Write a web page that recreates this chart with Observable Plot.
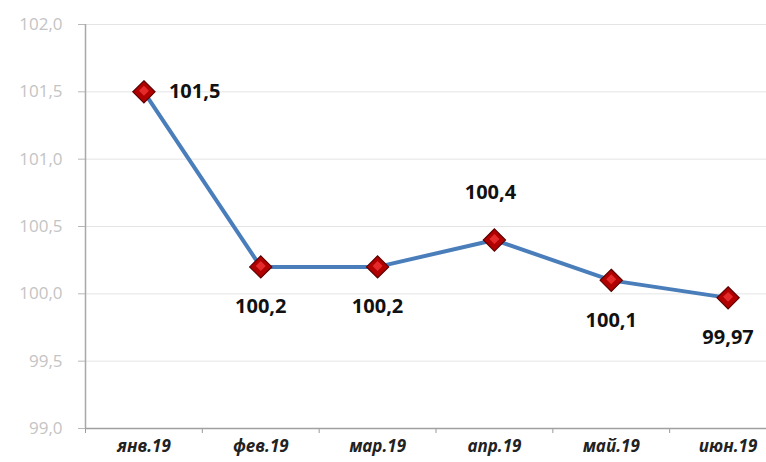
<!DOCTYPE html>
<html>
<head>
<meta charset="utf-8">
<script src="https://cdn.jsdelivr.net/npm/d3@7"></script>
<script src="https://cdn.jsdelivr.net/npm/@observablehq/plot@0.6"></script>
<style>
  html, body { margin: 0; padding: 0; background: #fff; }
</style>
</head>
<body>
<div id="chart"></div>
<script>
const months = ["янв.19", "фев.19", "мар.19", "апр.19", "май.19", "июн.19"];
const values = [101.5, 100.2, 100.2, 100.4, 100.1, 99.97];
const labels = ["101,5", "100,2", "100,2", "100,4", "100,1", "99,97"];
const yTicks = [99.0, 99.5, 100.0, 100.5, 101.0, 101.5, 102.0];

const data = months.map((m, i) => ({i: i + 0.5, month: m, value: values[i], label: labels[i]}));
const right = data.filter((d, i) => i === 0);
const above = data.filter((d, i) => i === 3);
const below = data.filter((d, i) => i !== 0 && i !== 3);

const fmt = d => d.toFixed(1).replace(".", ",");

const chart = Plot.plot({
  width: 766,
  height: 462,
  marginTop: 24,
  marginBottom: 34,
  marginLeft: 85,
  marginRight: 0,
  style: {fontFamily: "'Open Sans', sans-serif", background: "#fff"},
  x: {domain: [0, 6], range: [85, 786], axis: null, label: null},
  y: {domain: [99, 102], axis: null, label: null},
  marks: [
    Plot.gridY(yTicks, {stroke: "#e4e4e4", strokeOpacity: 1, strokeWidth: 1}),
    Plot.axisY(yTicks, {label: null, tickFormat: fmt, tickSize: 7, stroke: "#b8b8b8", fill: "#c4c4c4", fontSize: 17, tickPadding: 16}),
    Plot.axisX(d3.range(0, 7), {label: null, tickFormat: () => "", tickSize: 5, stroke: "#9a9a9a"}),
    Plot.axisX(data.map(d => d.i), {label: null, tickFormat: (d) => months[Math.round(d - 0.5)], tickSize: 0, tickPadding: 11,
      fill: "#222", fontSize: 17, fontWeight: "bold", fontStyle: "italic"}),
    Plot.ruleX([0], {stroke: "#a8a8a8", strokeWidth: 1.5}),
    Plot.ruleY([99], {stroke: "#a0a0a0", strokeWidth: 1.5}),
    Plot.line(data, {x: "i", y: "value", stroke: "#4a7ebb", strokeWidth: 4}),
    Plot.dot(data, {x: "i", y: "value", symbol: "diamond2", r: 10, fill: "#b00000", stroke: "#5e0000", strokeWidth: 1.2}),
    Plot.dot(data, {x: "i", y: "value", symbol: "diamond2", r: 4.5, fill: "#e52a2a", stroke: "none", dy: -1}),
    Plot.text(right, {x: "i", y: "value", text: "label", textAnchor: "start", dx: 25, fontSize: 20, fontWeight: "bold", fill: "#111"}),
    Plot.text(above, {x: "i", y: "value", text: "label", dy: -47, dx: -4, fontSize: 20, fontWeight: "bold", fill: "#111"}),
    Plot.text(below, {x: "i", y: "value", text: "label", dy: 40, fontSize: 20, fontWeight: "bold", fill: "#111"})
  ]
});
document.getElementById("chart").appendChild(chart);
</script>
</body>
</html>
